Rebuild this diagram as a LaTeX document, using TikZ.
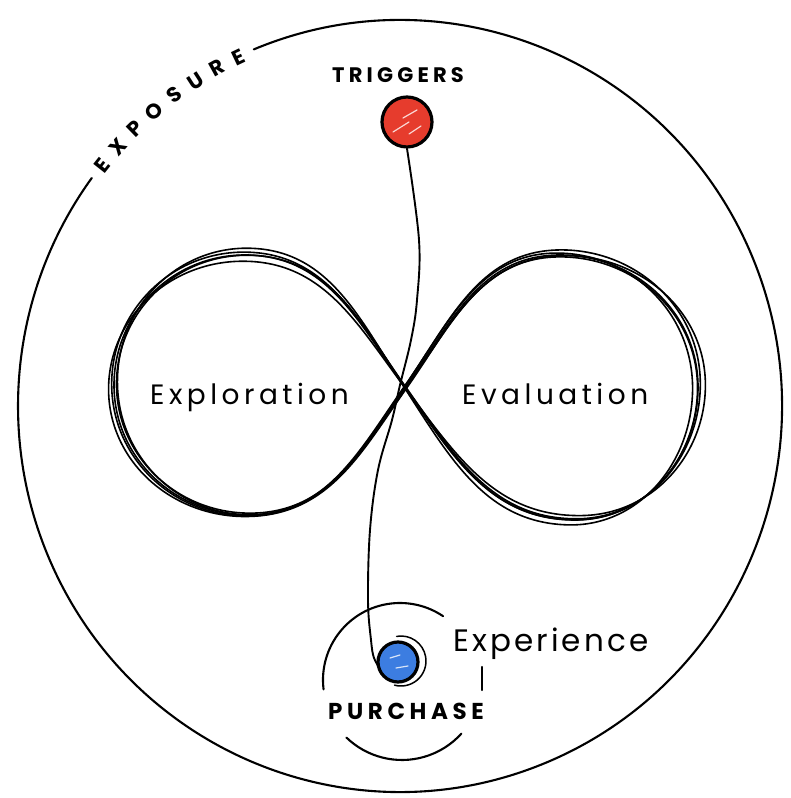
\documentclass[tikz,border=0pt]{standalone}
\usepackage{fontspec}
\setmainfont{Poppins}
\newfontfamily\lblfont[LetterSpace=16]{Poppins}
\newfontfamily\expfont[LetterSpace=10]{Poppins}
\newfontfamily\capfont[LetterSpace=20]{Poppins}
\usetikzlibrary{calc,decorations.text}
\definecolor{trigred}{HTML}{E63C2D}
\definecolor{purchblue}{HTML}{3C7DE1}
\begin{document}
\begin{tikzpicture}[x=1pt,y=1pt, line cap=round, line join=round,
  strokeline/.style={line width=2.1pt, black},
  loopline/.style={line width=1.6pt, black},
  softlabel/.style={font=\lblfont\fontsize{28}{28}\selectfont, inner sep=0pt, anchor=base west},
  capslabel/.style={font=\capfont\bfseries\fontsize{21}{21}\selectfont, inner sep=0pt, anchor=base west},
  dot/.style={circle, draw=black, line width=3.2pt, inner sep=0pt},
  highlight/.style={white, line width=1.2pt, opacity=0.8}
  ]
\fill[white] (0,0) rectangle (790,798);
\useasboundingbox (0,0) rectangle (790,798);

% outer exposure circle with a gap for the label
\draw[strokeline] (400,392) ++(112.5:382 and 386)
  arc[start angle=112.5, end angle=-216.2, x radius=382, y radius=386];

% EXPOSURE written along the gap
\path[decorate, decoration={text along path, text align=fit to path,
    text={|\capfont\bfseries\fontsize{21}{21}\selectfont|EXPOSURE}}]
  (400,392) ++(142.3:374 and 378)
  arc[start angle=142.3, end angle=114.2, x radius=374, y radius=378];

% infinity loop, several sketchy strokes
\foreach \xs/\ys/\rot/\dx/\dy in {1/1/0/0/0, 1.022/0.982/1.0/1/-1, 0.985/1.025/-0.9/-1/1, 1.008/1.015/0.4/0/2, 0.995/0.992/-0.3/1/0} {
  \draw[loopline, shift={(405+\dx,410+\dy)}, rotate=\rot, xscale=\xs, yscale=\ys]
    (0,0) to[out=125,in=0] (-160,133) to[out=180,in=90] (-291,3)
    to[out=-90,in=180] (-157,-127) to[out=0,in=235] (0,0)
    to[out=55,in=180] (155,133) to[out=0,in=90] (293,1)
    to[out=-90,in=0] (170,-132) to[out=180,in=-55] (0,0);
}

% triggers dot
\node[dot, fill=trigred, minimum size=50pt] (trig) at (407,676) {};
\draw[highlight] ($(trig.center)+(-14,-10)$) -- ++(16,10);
\draw[highlight] ($(trig.center)+(-4,4)$) -- ++(14,8);
\draw[highlight] ($(trig.center)+(2,-12)$) -- ++(12,8);

% stem from triggers to purchase
\draw[line width=1.9pt] plot[smooth, tension=0.6] coordinates {(trig.south) (419,558) (417,498) (411,458) (400,413) (392,378) (378,328) (370,268) (368,198) (371,158) (374,140) (381,128)};

% purchase dot
\node[dot, fill=purchblue, minimum size=40pt] (purch) at (398,136) {};
\draw[highlight] ($(purch.center)+(-2,-6)$) -- ++(12,2);
\draw[highlight] ($(purch.center)+(-8,4)$) -- ++(10,3);
\draw[line width=1.5pt] (401,137) ++(100:25) arc[start angle=100, end angle=-105, radius=25];

% purchase/experience ring
\draw[strokeline] (400,118) ++(187:77) arc[start angle=187, end angle=56, radius=77];
\draw[strokeline] (402,118) ++(226:80) arc[start angle=226, end angle=318, radius=80];
\draw[strokeline] (482,131) -- (482,108);

% labels
\node[capslabel] (trigtxt) at (332,715) {TRIGGERS};
\node[softlabel] (explo) at (150,393) {Exploration};
\node[softlabel] (evalu) at (462,393) {Evaluation};
\node[softlabel, font=\expfont\fontsize{31}{31}\selectfont] (exper) at (453,146) {Experience};
\node[capslabel, font=\capfont\bfseries\fontsize{23}{23}\selectfont] (purtxt) at (328,78) {PURCHASE};
\end{tikzpicture}
\end{document}
